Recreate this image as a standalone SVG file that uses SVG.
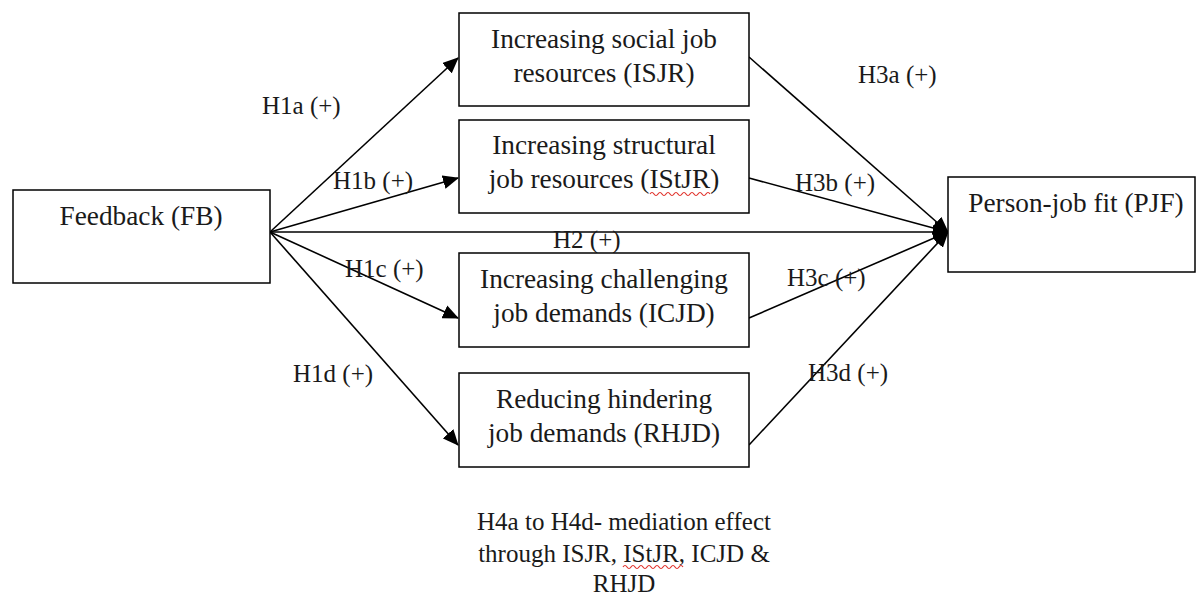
<svg xmlns="http://www.w3.org/2000/svg" width="1200" height="595" viewBox="0 0 1200 595">
  <style>
    .box { fill: #ffffff; stroke: #000000; stroke-width: 1.5; }
    .t { font-family: "Liberation Serif", "Times New Roman", serif; font-size: 27.3px; fill: #1a1a1a; text-anchor: middle; }
    .note { font-family: "Liberation Serif", "Times New Roman", serif; font-size: 25px; fill: #1a1a1a; text-anchor: middle; }
    .lbl { font-family: "Liberation Serif", "Times New Roman", serif; font-size: 25px; fill: #1a1a1a; }
    .edge { stroke: #000000; stroke-width: 1.6; fill: none; }
    .squig { stroke: #e0302a; stroke-width: 1.2; fill: none; }
  </style>
  <defs>
    <marker id="arrow" markerUnits="userSpaceOnUse" markerWidth="16" markerHeight="14" refX="15" refY="7" orient="auto">
      <path d="M0,0 L16,7 L0,14 Z" fill="#000000"/>
    </marker>
  </defs>
  <rect width="1200" height="595" fill="#ffffff"/>

  <g id="connectors">
    <line class="edge" x1="270" y1="232" x2="458" y2="58" marker-end="url(#arrow)"/>
    <line class="edge" x1="270" y1="232" x2="458" y2="178" marker-end="url(#arrow)"/>
    <line class="edge" x1="270" y1="232" x2="948" y2="232" marker-end="url(#arrow)"/>
    <line class="edge" x1="270" y1="232" x2="458" y2="318" marker-end="url(#arrow)"/>
    <line class="edge" x1="270" y1="232" x2="458" y2="445" marker-end="url(#arrow)"/>
    <line class="edge" x1="749" y1="57" x2="948" y2="232" marker-end="url(#arrow)"/>
    <line class="edge" x1="749" y1="178" x2="948" y2="232" marker-end="url(#arrow)"/>
    <line class="edge" x1="749" y1="318" x2="948" y2="232" marker-end="url(#arrow)"/>
    <line class="edge" x1="749" y1="445" x2="948" y2="232" marker-end="url(#arrow)"/>
  </g>

  <g id="edge-labels">
    <text class="lbl" x="262" y="114">H1a (+)</text>
    <text class="lbl" x="333" y="189">H1b (+)</text>
    <text class="lbl" x="553" y="248">H2 (+)</text>
    <text class="lbl" x="345" y="277">H1c (+)</text>
    <text class="lbl" x="293" y="382">H1d (+)</text>
    <text class="lbl" x="858" y="83">H3a (+)</text>
    <text class="lbl" x="795" y="191">H3b (+)</text>
    <text class="lbl" x="787" y="286">H3c (+)</text>
    <text class="lbl" x="808" y="381">H3d (+)</text>
  </g>

  <g id="node-fb">
    <rect class="box" x="13" y="190" width="257" height="93"/>
    <text class="t" x="141" y="225">Feedback (FB)</text>
  </g>

  <g id="node-isjr">
    <rect class="box" x="459" y="13" width="290" height="93"/>
    <text class="t" x="604" y="48">Increasing social job</text>
    <text class="t" x="604" y="82">resources (ISJR)</text>
  </g>

  <g id="node-istjr">
    <rect class="box" x="459" y="120" width="290" height="93"/>
    <text class="t" x="604" y="154">Increasing structural</text>
    <text class="t" x="604" y="188">job resources (IStJR)</text>
    <path class="squig" d="M650,194 q2,-3 4,0 t4,0 t4,0 t4,0 t4,0 t4,0 t4,0 t4,0 t4,0 t4,0 t4,0 t4,0 t4,0 t4,0 t4,0"/>
  </g>

  <g id="node-icjd">
    <rect class="box" x="459" y="253" width="290" height="94"/>
    <text class="t" x="604" y="288">Increasing challenging</text>
    <text class="t" x="604" y="322">job demands (ICJD)</text>
  </g>

  <g id="node-rhjd">
    <rect class="box" x="459" y="373" width="290" height="94"/>
    <text class="t" x="604" y="408">Reducing hindering</text>
    <text class="t" x="604" y="442">job demands (RHJD)</text>
  </g>

  <g id="node-pjf">
    <rect class="box" x="948" y="177" width="247" height="95"/>
    <text class="t" x="1076" y="212">Person-job fit (PJF)</text>
  </g>

  <g id="note">
    <text class="note" x="624" y="530">H4a to H4d- mediation effect</text>
    <text class="note" x="624" y="562">through ISJR, IStJR, ICJD &amp;</text>
    <text class="note" x="624" y="592">RHJD</text>
    <path class="squig" d="M623,567 q2,-3 4,0 t4,0 t4,0 t4,0 t4,0 t4,0 t4,0 t4,0 t4,0 t4,0 t4,0 t4,0 t4,0 t4,0 t4,0"/>
  </g>
</svg>
